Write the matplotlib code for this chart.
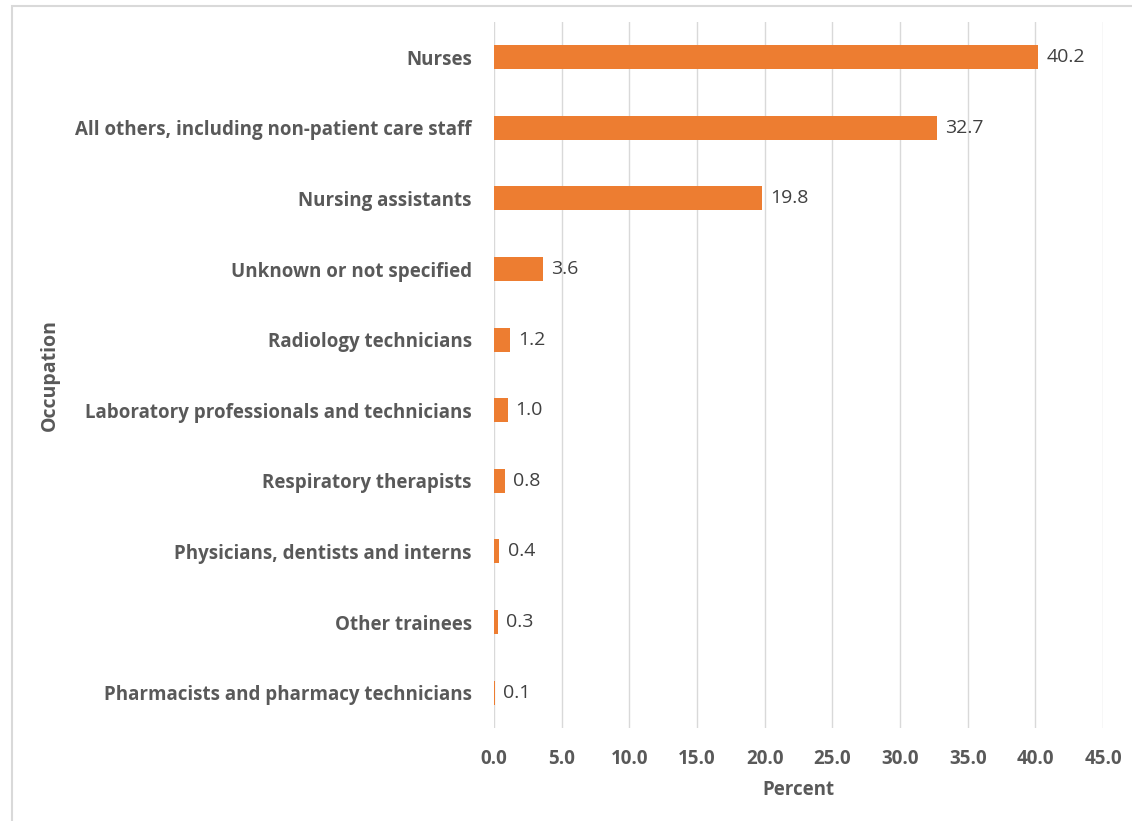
import matplotlib
matplotlib.use("Agg")
import matplotlib.pyplot as plt
from matplotlib.patches import Rectangle

# Share of cases by occupation (percent)
occupations = [
    "Nurses",
    "All others, including non-patient care staff",
    "Nursing assistants",
    "Unknown or not specified",
    "Radiology technicians",
    "Laboratory professionals and technicians",
    "Respiratory therapists",
    "Physicians, dentists and interns",
    "Other trainees",
    "Pharmacists and pharmacy technicians",
]
percent = [40.2, 32.7, 19.8, 3.6, 1.2, 1.0, 0.8, 0.4, 0.3, 0.1]
x_ticks = [0, 5, 10, 15, 20, 25, 30, 35, 40, 45]

BAR = "#ED7D31"
TEXT = "#595959"
GRID = "#D9D9D9"

plt.rcParams["font.family"] = ["Open Sans", "DejaVu Sans"]

fig = plt.figure(figsize=(11.32, 8.21), dpi=100)
ax = fig.add_axes([0.4364, 0.1133, 0.5380, 0.8599])

pos = list(range(len(occupations)))
ax.barh(pos, percent, height=0.34, color=BAR, zorder=3)
for y, v in zip(pos, percent):
    ax.text(v + 0.6, y, f"{v:.1f}", va="center", ha="left",
            fontsize=14, color="#404040", zorder=4)

ax.set_ylim(len(occupations) - 0.5, -0.5)
ax.set_xlim(0, 45)
ax.set_xticks(x_ticks)
ax.set_xticklabels([f"{t:.1f}" for t in x_ticks], fontsize=13.5,
                   fontweight="bold", color=TEXT)
ax.set_yticks(pos)
ax.set_yticklabels(occupations, fontsize=13.5, fontweight="bold", color=TEXT)
ax.tick_params(axis="both", length=0)
ax.tick_params(axis="x", pad=15)
ax.tick_params(axis="y", pad=16)
ax.grid(True, axis="x", color=GRID, linewidth=1, zorder=0)
ax.set_axisbelow(True)
for s in ax.spines.values():
    s.set_visible(False)

ax.set_xlabel("Percent", fontsize=13.5, fontweight="bold", color=TEXT, labelpad=8)
fig.text(0.044, 0.543, "Occupation", rotation=90, va="center", ha="center",
         fontsize=14, fontweight="bold", color=TEXT)

# light frame around the chart area
fig.patches.append(Rectangle((0.011, -0.01), 1.0, 1.003, transform=fig.transFigure,
                             fill=False, edgecolor="#D9D9D9", linewidth=1.5))

fig.savefig("out.png", dpi=100)
